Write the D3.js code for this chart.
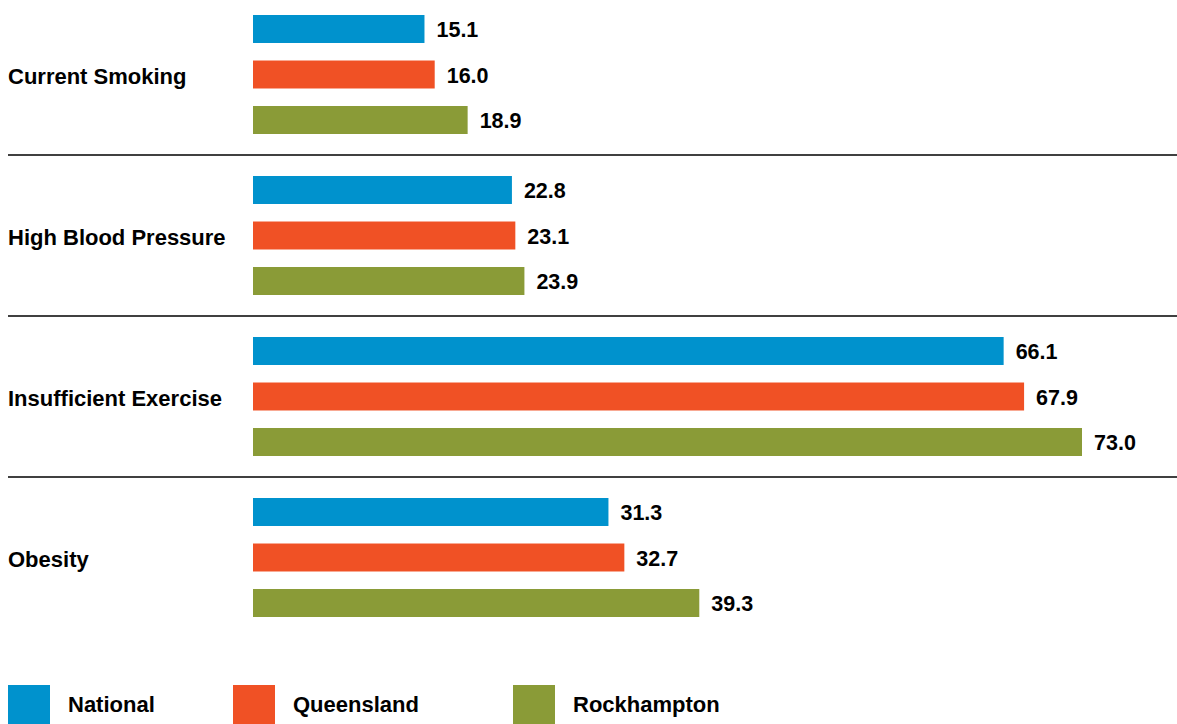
<!DOCTYPE html>
<html>
<head>
<meta charset="utf-8">
<script src="https://cdn.jsdelivr.net/npm/d3@7"></script>
<style>
  html, body { margin: 0; padding: 0; background: #ffffff; }
  svg { display: block; }
  text { font-family: "Liberation Sans", Arial, Helvetica, sans-serif; font-weight: bold; fill: #000; }
</style>
</head>
<body>
<svg id="chart" width="1177" height="724"></svg>
<script>
// Health risk factors, per cent of adults
const categories = ["Current Smoking", "High Blood Pressure", "Insufficient Exercise", "Obesity"];
const seriesNames = ["National", "Queensland", "Rockhampton"];
const nationalValues = [15.1, 22.8, 66.1, 31.3];
const queenslandValues = [16.0, 23.1, 67.9, 32.7];
const rockhamptonValues = [18.9, 23.9, 73.0, 39.3];
const seriesColors = ["#0092cd", "#f05125", "#8a9b37"];

const seriesValues = [nationalValues, queenslandValues, rockhamptonValues];
const rows = categories.map((c, i) => ({
  category: c,
  values: seriesNames.map((s, j) => ({ series: s, value: seriesValues[j][i] }))
}));

const svg = d3.select("#chart");
const labelSize = 22;
const valueSize = 21.5;

// Scales
const x = d3.scaleLinear().domain([0, 73]).range([253, 1082]);
const y0 = d3.scaleBand().domain(categories).range([-6, 638]).padding(0);
const y1 = d3.scaleBand().domain(seriesNames).range([21, 140]).paddingInner(0.385).paddingOuter(0);
const color = d3.scaleOrdinal().domain(seriesNames).range(seriesColors);

// Separator rules between groups
svg.append("g")
  .selectAll("line")
  .data(categories.slice(0, -1))
  .join("line")
  .attr("x1", 8)
  .attr("x2", 1177)
  .attr("y1", d => y0(d) + y0.bandwidth())
  .attr("y2", d => y0(d) + y0.bandwidth())
  .attr("stroke", "#000")
  .attr("stroke-width", 1.4);

const groups = svg.append("g")
  .selectAll("g")
  .data(rows)
  .join("g")
  .attr("transform", d => `translate(0,${y0(d.category)})`);

// Category labels
groups.append("text")
  .attr("x", 8)
  .attr("y", (y1.range()[0] + y1.range()[1]) / 2 + 9)
  .style("font-size", labelSize + "px")
  .text(d => d.category);

// Bars
groups.selectAll("rect")
  .data(d => d.values)
  .join("rect")
  .attr("x", x(0))
  .attr("y", d => y1(d.series))
  .attr("width", d => x(d.value) - x(0))
  .attr("height", y1.bandwidth())
  .attr("fill", d => color(d.series));

// Value labels
groups.selectAll("text.value")
  .data(d => d.values)
  .join("text")
  .attr("class", "value")
  .attr("x", d => x(d.value) + 12)
  .attr("y", d => y1(d.series) + y1.bandwidth() / 2 + 8)
  .style("font-size", valueSize + "px")
  .text(d => d3.format(".1f")(d.value));

// Legend
const legendX = [8, 233, 513];
const legend = svg.append("g")
  .selectAll("g")
  .data(seriesNames)
  .join("g")
  .attr("transform", (d, i) => `translate(${legendX[i]},685)`);

legend.append("rect")
  .attr("width", 42)
  .attr("height", 40)
  .attr("fill", d => color(d));

legend.append("text")
  .attr("x", 60)
  .attr("y", 27)
  .style("font-size", labelSize + "px")
  .text(d => d);
</script>
</body>
</html>
